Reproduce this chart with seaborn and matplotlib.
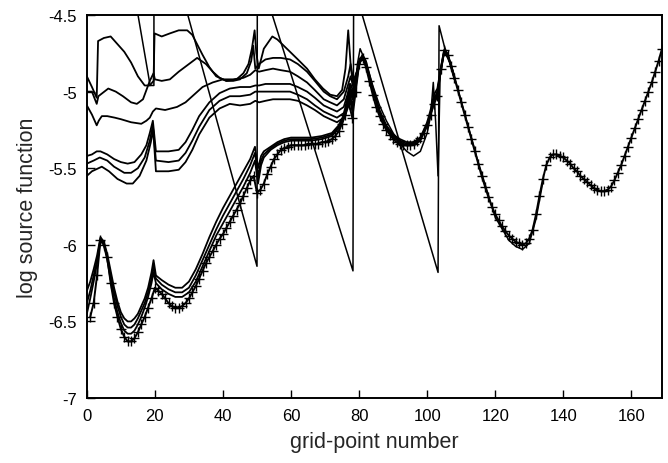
import numpy as np
import pandas as pd
import matplotlib
matplotlib.use("Agg")
import matplotlib.pyplot as plt
import seaborn as sns

# ---------------- data ----------------
# converged solution (marked with +), grid points 1..169
conv_x = list(range(1, 170))
conv_y = [
    -6.47, -6.38, -6.20, -5.97, -6.00, -6.08, -6.25, -6.38, -6.47, -6.55,   # 1-10
    -6.60, -6.63, -6.63, -6.61, -6.57, -6.52, -6.47, -6.41, -6.35, -6.28,   # 11-20
    -6.30, -6.32, -6.35, -6.38, -6.40, -6.41, -6.41, -6.40, -6.38, -6.35,   # 21-30
    -6.31, -6.27, -6.22, -6.17, -6.12, -6.08, -6.04, -6.00, -5.96, -5.93,   # 31-40
    -5.89, -5.85, -5.81, -5.77, -5.73, -5.68, -5.63, -5.58, -5.55, -5.66,   # 41-50
    -5.64, -5.60, -5.54, -5.49, -5.44, -5.41, -5.38, -5.37, -5.36, -5.35,   # 51-60
    -5.35, -5.35, -5.35, -5.35, -5.34, -5.34, -5.34, -5.34, -5.33, -5.33,   # 61-70
    -5.32, -5.31, -5.29, -5.26, -5.21, -5.15, -5.08, -5.17, -5.00, -4.82,   # 71-80
    -4.78, -4.84, -4.93, -5.02, -5.10, -5.16, -5.21, -5.25, -5.28, -5.31,   # 81-90
    -5.33, -5.34, -5.35, -5.35, -5.35, -5.34, -5.32, -5.30, -5.27, -5.22,   # 91-100
    -5.15, -5.08, -5.03, -4.85, -4.73, -4.76, -4.83, -4.91, -4.99, -5.07,   # 101-110
    -5.15, -5.23, -5.31, -5.39, -5.47, -5.55, -5.62, -5.69, -5.75, -5.80,   # 111-120
    -5.84, -5.88, -5.91, -5.94, -5.96, -5.98, -5.99, -6.00, -5.99, -5.96,   # 121-130
    -5.90, -5.80, -5.68, -5.57, -5.48, -5.43, -5.41, -5.41, -5.42, -5.43,   # 131-140
    -5.45, -5.47, -5.50, -5.52, -5.55, -5.57, -5.59, -5.61, -5.63, -5.64,   # 141-150
    -5.65, -5.65, -5.64, -5.62, -5.58, -5.53, -5.48, -5.42, -5.36, -5.30,   # 151-160
    -5.24, -5.18, -5.12, -5.06, -5.00, -4.94, -4.87, -4.80, -4.72,          # 161-169
]

# early iterations (upper family)
u1_x = [0, 1.5, 2.9, 3.3, 5, 7, 9, 11, 13, 15, 17, 18.5, 19.6,
        19.9, 22, 24.4, 27, 29.5, 31, 34, 36, 38, 41, 44, 46, 47.5, 48.5, 49.3, 49.8,
        50.5, 52, 54.5, 56, 59.7, 62, 64.7, 67, 69.4, 71.5, 73.5, 75, 76, 76.8, 77.6, 78.3,
        79.5, 80.5, 81.5]
u1_y = [-4.90, -4.97, -5.04, -4.67, -4.65, -4.64, -4.69, -4.74, -4.81, -4.90, -4.96, -4.96, -4.93,
        -4.62, -4.64, -4.62, -4.60, -4.60, -4.63, -4.76, -4.84, -4.90, -4.93, -4.92, -4.88, -4.82, -4.72, -4.60, -4.75,
        -4.85, -4.72, -4.64, -4.66, -4.74, -4.79, -4.85, -4.92, -4.98, -5.02, -5.03, -4.99, -4.85, -4.60, -4.85, -4.96,
        -4.86, -4.78, -4.80]

u2_x = [0, 1.5, 2.9, 3.4, 6.3, 8.5, 10.6, 13, 14.7, 16.5, 18.5, 19.6,
        20, 22, 24.4, 27, 29.4, 32.4, 35, 37, 39, 41, 43, 45, 47, 48.3, 48.9, 49.5,
        50.6, 52.5, 54.7, 57, 59.7, 62, 64.7, 67, 69.6, 71.5, 73.5, 75.5, 76.8, 77.5, 78.3,
        79.5, 80.5, 81.5]
u2_y = [-5.00, -5.00, -5.08, -5.03, -4.98, -5.00, -5.03, -5.07, -5.08, -5.05, -4.93, -4.88,
        -4.92, -4.93, -4.92, -4.87, -4.83, -4.78, -4.82, -4.87, -4.91, -4.93, -4.93, -4.92, -4.88, -4.80, -4.70, -4.85,
        -4.82, -4.79, -4.78, -4.78, -4.79, -4.82, -4.87, -4.93, -5.00, -5.03, -5.05, -5.00, -4.90, -4.82, -4.93,
        -4.86, -4.78, -4.80]

u3_x = [0, 1.5, 2.9, 3.5, 4.4, 6, 8.2, 10, 13, 16, 17.5, 18.5, 19.4,
        20.3, 23, 26.5, 29, 31, 34, 37, 40, 43, 46, 48, 49.5,
        50.6, 52.5, 54.7, 57, 59.7, 62, 64.7, 67, 69.6, 71.5, 73.5, 75.5, 77.5, 78.3,
        79.5, 80.5, 81.5]
u3_y = [-5.09, -5.15, -5.22, -5.19, -5.16, -5.16, -5.17, -5.18, -5.20, -5.21, -5.19, -5.17, -5.13,
        -5.11, -5.12, -5.10, -5.07, -5.03, -4.97, -4.94, -4.92, -4.92, -4.91, -4.89, -4.86,
        -4.87, -4.86, -4.85, -4.86, -4.87, -4.90, -4.94, -4.99, -5.05, -5.07, -5.09, -5.05, -4.90, -4.97,
        -4.86, -4.78, -4.80]

u4_x = [0, 1.5, 2.9, 4, 6, 8, 10, 12, 14, 16, 17.5, 18.5, 19.4,
        20.3, 24, 27, 29, 31, 33, 36, 39, 42, 45, 48, 49.5,
        50.6, 52.5, 54.7, 57, 59.7, 62, 64.7, 67, 69.6, 71.5, 73.5, 75.5, 77.5, 78.3,
        79.5, 80.5, 81.5]
u4_y = [-5.42, -5.41, -5.39, -5.39, -5.41, -5.44, -5.46, -5.47, -5.46, -5.41, -5.35, -5.27, -5.19,
        -5.39, -5.39, -5.38, -5.33, -5.25, -5.16, -5.07, -5.01, -4.98, -4.97, -4.97, -4.96,
        -4.96, -4.95, -4.95, -4.95, -4.95, -4.97, -5.00, -5.04, -5.09, -5.11, -5.13, -5.10, -4.95, -5.00,
        -4.86, -4.78, -4.80]

u5_x = [0, 2, 3.8, 6, 8, 11, 13, 15, 17, 18.5, 19.4,
        20.3, 24, 27, 29, 31, 33, 36, 39, 42, 45, 48, 49.5,
        50.6, 52.5, 54.7, 57, 59.7, 62, 64.7, 67, 69.6, 71.5, 73.5, 75.5, 77.5, 78.3,
        79.5, 80.5, 81.5]
u5_y = [-5.47, -5.45, -5.43, -5.45, -5.49, -5.53, -5.53, -5.50, -5.43, -5.32, -5.22,
        -5.45, -5.46, -5.45, -5.40, -5.32, -5.23, -5.12, -5.06, -5.03, -5.03, -5.02, -5.00,
        -5.00, -5.00, -5.00, -5.00, -5.00, -5.02, -5.05, -5.09, -5.13, -5.15, -5.17, -5.14, -4.98, -5.02,
        -4.86, -4.78, -4.80]

u6_x = [0, 1.5, 4.4, 6.5, 9, 11.7, 13.5, 15.5, 17.5, 18.8, 19.5,
        20.3, 24, 27, 29, 31, 33, 36, 39, 42, 45, 48, 49.5,
        50.6, 52.5, 54.7, 57, 59.7, 62, 64.7, 67, 69.6, 71.5, 73.5, 75.5, 77.5, 78.3,
        79.5, 80.5, 81.5]
u6_y = [-5.55, -5.52, -5.49, -5.52, -5.57, -5.60, -5.60, -5.55, -5.45, -5.33, -5.25,
        -5.52, -5.52, -5.51, -5.46, -5.38, -5.28, -5.17, -5.11, -5.08, -5.09, -5.08, -5.06,
        -5.07, -5.06, -5.05, -5.05, -5.05, -5.06, -5.09, -5.12, -5.16, -5.18, -5.20, -5.17, -5.00, -5.05,
        -4.86, -4.78, -4.80]

# late iterations (lower family, close to the converged solution)
low_x = [0, 1, 2, 3, 4, 5, 6, 7, 8, 9, 10, 11, 12, 13, 14, 15, 16, 17, 18, 19, 19.6, 20.3,
         22, 24, 26, 28, 30, 32, 34, 36, 38, 40, 42, 44, 46, 48, 49.4, 50.3, 51.2, 52, 54, 56,
         58, 60, 63, 66, 69, 72, 74, 76, 77.2, 78, 79, 80, 81, 82, 84, 86, 88, 90, 92, 94, 96,
         98, 100, 101, 102, 103, 104, 105, 106, 108]
l1_y = [-6.30, -6.24, -6.16, -6.07, -5.95, -5.98, -6.06, -6.17, -6.28, -6.37, -6.44, -6.48, -6.50,
        -6.50, -6.48, -6.45, -6.40, -6.35, -6.28, -6.18, -6.10, -6.20, -6.23, -6.26, -6.28, -6.28,
        -6.24, -6.16, -6.06, -5.95, -5.85, -5.76, -5.68, -5.60, -5.52, -5.44, -5.36, -5.50, -5.42,
        -5.39, -5.36, -5.33, -5.31, -5.30, -5.30, -5.30, -5.29, -5.27, -5.22, -5.13, -4.95, -5.05,
        -4.92, -4.80, -4.76, -4.80, -4.97, -5.12, -5.22, -5.28, -5.31, -5.33, -5.33, -5.30, -5.20,
        -5.12, -5.02, -4.98, -4.85, -4.73, -4.75, -4.90]
l2_y = [-6.38, -6.30, -6.20, -6.10, -5.96, -5.99, -6.08, -6.20, -6.31, -6.40, -6.47, -6.52, -6.54,
        -6.54, -6.52, -6.48, -6.43, -6.38, -6.31, -6.22, -6.14, -6.22, -6.26, -6.29, -6.31, -6.31,
        -6.28, -6.20, -6.10, -6.00, -5.90, -5.81, -5.73, -5.65, -5.57, -5.48, -5.40, -5.55, -5.45,
        -5.41, -5.37, -5.34, -5.32, -5.31, -5.31, -5.31, -5.30, -5.28, -5.23, -5.14, -5.00, -5.10,
        -4.95, -4.81, -4.77, -4.82, -4.98, -5.13, -5.23, -5.29, -5.32, -5.34, -5.34, -5.31, -5.21,
        -5.14, -5.05, -5.00, -4.86, -4.74, -4.76, -4.91]
l3_y = [-6.45, -6.35, -6.24, -6.12, -5.97, -6.00, -6.10, -6.23, -6.35, -6.44, -6.51, -6.56, -6.58,
        -6.58, -6.56, -6.52, -6.47, -6.41, -6.34, -6.25, -6.18, -6.25, -6.29, -6.32, -6.34, -6.34,
        -6.31, -6.24, -6.14, -6.04, -5.94, -5.86, -5.78, -5.70, -5.62, -5.53, -5.45, -5.60, -5.48,
        -5.43, -5.38, -5.35, -5.33, -5.32, -5.32, -5.32, -5.31, -5.29, -5.24, -5.15, -5.03, -5.13,
        -4.97, -4.82, -4.78, -4.83, -4.99, -5.14, -5.24, -5.30, -5.33, -5.35, -5.35, -5.32, -5.22,
        -5.15, -5.07, -5.01, -4.87, -4.74, -4.76, -4.92]

# one intermediate iteration deviating in the right half
t_x = [78.5, 79.5, 80.3, 82, 84, 86, 88, 90, 92, 94, 96, 98, 100, 101, 101.8, 102.5, 103.2,
       103.8, 105, 107, 110, 115, 120, 124, 126, 128, 130, 132, 134]
t_y = [-5.05, -4.82, -4.72, -4.81, -4.96, -5.09, -5.19, -5.27, -5.34, -5.39, -5.42, -5.39, -5.27,
       -5.16, -4.94, -5.20, -5.55, -4.90, -4.74, -4.82, -5.06, -5.46, -5.82, -5.97, -6.01, -6.03,
       -5.99, -5.83, -5.59]

# initial guess (saw-tooth)
s_x = [10, 18.6, 19.7, 19.75, 50.0, 50.1, 78.2, 78.4, 103.2, 103.5, 105, 107]
s_y = [-3.85, -4.96, -4.96, -3.70, -6.14, -4.19, -6.17, -4.31, -6.18, -4.57, -4.70, -4.83]

x_ticks = [0, 20, 40, 60, 80, 100, 120, 140, 160]
y_ticks = [-7, -6.5, -6, -5.5, -5, -4.5]
y_tick_labels = ["-7", "-6.5", "-6", "-5.5", "-5", "-4.5"]

# ---------------- plot ----------------
sns.set_theme(style="ticks")
plt.rcParams["font.family"] = ["Liberation Sans", "DejaVu Sans"]
plt.rcParams["axes.unicode_minus"] = False

fig = plt.figure(figsize=(6.68, 4.64), dpi=100)
ax = fig.add_axes([0.130, 0.140, 0.861, 0.8255])

lw = 1.3
def draw(xs, ys, **kw):
    df = pd.DataFrame({"x": xs, "y": ys})
    sns.lineplot(data=df, x="x", y="y", ax=ax, sort=False, estimator=None,
                 color="black", linewidth=kw.pop("lw", lw), **kw)

for xs, ys in [(u1_x, u1_y), (u2_x, u2_y), (u3_x, u3_y),
               (u4_x, u4_y), (u5_x, u5_y), (u6_x, u6_y)]:
    draw(xs, ys)
for ys in [l1_y, l2_y, l3_y]:
    draw(low_x, ys)
draw(t_x, t_y, lw=1.1)
draw(s_x, s_y, lw=1.1)
draw(conv_x, conv_y, lw=1.4, marker="+", markersize=7.5,
     markeredgewidth=1.0, markeredgecolor="black")

ax.set_xlim(0, 169)
ax.set_ylim(-7, -4.5)
ax.set_xticks(x_ticks)
ax.set_xticklabels([str(v) for v in x_ticks])
ax.set_yticks(y_ticks)
ax.set_yticklabels(y_tick_labels)
ax.tick_params(direction="in", length=6, width=1.0, labelsize=12, colors="black",
               pad=7)
for sp in ax.spines.values():
    sp.set_linewidth(1.4)
    sp.set_color("black")
    sp.set_visible(True)
ax.set_xlabel("grid-point number", fontsize=15.5, labelpad=6)
ax.set_ylabel("log source function", fontsize=15.5, labelpad=8)

fig.savefig("out.png", dpi=100)
